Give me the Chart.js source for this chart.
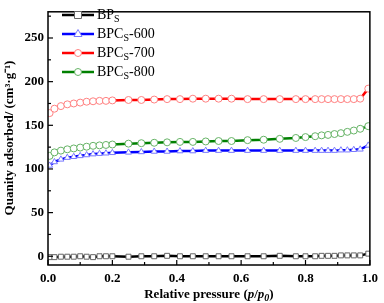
<!DOCTYPE html>
<html><head><meta charset="utf-8">
<script src="https://cdn.jsdelivr.net/npm/chart.js@4/dist/chart.umd.min.js"></script>
<style>html,body{margin:0;padding:0;background:#fff}#wrap{width:384px;height:303px}</style>
</head><body><div id="wrap"><canvas id="c" width="384" height="303"></canvas></div>
<script>
const pressure = [0.005,0.02,0.04,0.06,0.08,0.10,0.12,0.14,0.16,0.18,0.20,0.25,0.29,0.33,0.37,0.41,0.45,0.49,0.53,0.57,0.62,0.67,0.72,0.77,0.80,0.83,0.85,0.87,0.89,0.91,0.93,0.95,0.97,0.995];
const bps     = [-1,-1,-0.5,-0.5,-0.5,0,-0.5,-1,0,0,0,-0.5,0,0,0.5,0,0,0,0,0,0,0,0.5,0,0,0,0.5,0.5,0.5,1,1,1,1,3];
const bpcs600 = [104,108,111,113,114,115,116,117,117.5,118,118.5,119,119.5,120,120,120.5,120.5,121,121,121,121,121,121,121,121,121,121,121,121,121.5,121.5,122,122.5,127];
const bpcs700 = [164,169,172,174,175,176,177,177.5,178,178,178.5,179,179,179.5,180,180,180.5,180.5,180.5,180.5,180,180,180,180,180,180,180,180,180,180,180,180,180.5,192];
const bpcs800 = [115,119,121,122.5,123.5,124.5,125.5,126.5,127,127.5,128,129,129.5,130,130.5,131,131,131.5,132,132,133,133.5,134.5,135.5,136.5,137.5,138.5,139,140,141,142.5,144,146,149];
const seriesNames = [["BP","S",""],["BPC","S","-600"],["BPC","S","-700"],["BPC","S","-800"]];
const xTickValues = [0,0.2,0.4,0.6,0.8,1.0];
const yTickValues = [0,50,100,150,200,250];

const FONT = "'Liberation Serif','Times New Roman',serif";
function pts(ys){return pressure.map((x,i)=>({x:x,y:ys[i]}));}
function ds(label,ys,color,mk,mkColor){
  return {label:label,data:pts(ys),borderColor:color,borderWidth:2.5,pointStyle:mk,pointRadius:3.5,
    pointBackgroundColor:'#fff',pointBorderColor:mkColor,pointBorderWidth:1,tension:0};
}
const datasets=[
  ds('BPs',bps,'#000','rect','#666'),
  ds('BPCs-600',bpcs600,'#0000ff','triangle','#7a7aff'),
  ds('BPCs-700',bpcs700,'#ff0000','circle','#ff8080'),
  ds('BPCs-800',bpcs800,'#008000','circle','#66b366')
];

const deco={id:'deco',afterDraw(chart){
  const ctx=chart.ctx,a=chart.chartArea,xs=chart.scales.x,ys=chart.scales.y;
  ctx.save();
  ctx.strokeStyle='#000';ctx.lineWidth=1.5;
  ctx.strokeRect(a.left,a.top,a.right-a.left,a.bottom-a.top);
  ctx.lineWidth=1.2;
  for(let v=0;v<=1.0001;v+=0.1){const px=xs.getPixelForValue(v);const L=(Math.round(v*10)%2===0)?5:3;
    ctx.beginPath();ctx.moveTo(px,a.bottom);ctx.lineTo(px,a.bottom-L);ctx.stroke();}
  for(let v=0;v<=275;v+=25){const py=ys.getPixelForValue(v);const L=(v%50===0)?5:3;
    ctx.beginPath();ctx.moveTo(a.left,py);ctx.lineTo(a.left+L,py);ctx.stroke();}
  // axis titles
  ctx.fillStyle='#000';
  ctx.font='bold 13px '+FONT;ctx.textBaseline='middle';
  const t1='Relative pressure (',t2='p',t3='/',t4='p',t5='0',t6=')';
  const wB=s=>{ctx.font='bold 13px '+FONT;return ctx.measureText(s).width;};
  const wI=s=>{ctx.font='bold italic 13px '+FONT;return ctx.measureText(s).width;};
  const wS=s=>{ctx.font='bold italic 10px '+FONT;return ctx.measureText(s).width;};
  const total=wB(t1)+wI(t2)+wB(t3)+wI(t4)+wS(t5)+wB(t6);
  let x=(a.left+a.right)/2-total/2; const y=295;
  ctx.textAlign='left';
  ctx.font='bold 13px '+FONT;ctx.fillText(t1,x,y);x+=wB(t1);
  ctx.font='bold italic 13px '+FONT;ctx.fillText(t2,x,y);x+=wI(t2);
  ctx.font='bold 13px '+FONT;ctx.fillText(t3,x,y);x+=wB(t3);
  ctx.font='bold italic 13px '+FONT;ctx.fillText(t4,x,y);x+=wI(t4);
  ctx.font='bold italic 10px '+FONT;ctx.fillText(t5,x,y+3);x+=wS(t5);
  ctx.font='bold 13px '+FONT;ctx.fillText(t6,x,y);
  // y title
  ctx.save();ctx.translate(10,138);ctx.rotate(-Math.PI/2);
  ctx.font='bold 13px '+FONT;ctx.textAlign='center';ctx.fillText('Quanity adsorbed/ (cm³·g⁻¹)',0,0);
  ctx.restore();
  // legend
  const rows=[15,34,53,72];
  chart.data.datasets.forEach((d,i)=>{
    const yy=rows[i];
    ctx.strokeStyle=d.borderColor;ctx.lineWidth=2.5;
    ctx.beginPath();ctx.moveTo(62,yy);ctx.lineTo(94,yy);ctx.stroke();
    ctx.fillStyle='#fff';ctx.strokeStyle=d.pointBorderColor;ctx.lineWidth=1;
    ctx.beginPath();
    if(d.pointStyle==='rect'){ctx.rect(74.5,yy-3.5,7,7);}
    else if(d.pointStyle==='triangle'){ctx.moveTo(78,yy-4.5);ctx.lineTo(82,yy+2.5);ctx.lineTo(74,yy+2.5);ctx.closePath();}
    else {ctx.arc(78,yy,3.5,0,Math.PI*2);}
    ctx.fill();ctx.stroke();
    const n=seriesNames[i];let lx=97;
    ctx.fillStyle='#000';ctx.textAlign='left';ctx.textBaseline='middle';
    ctx.font='14px '+FONT;ctx.fillText(n[0],lx,yy);lx+=ctx.measureText(n[0]).width;
    ctx.font='10px '+FONT;ctx.fillText(n[1],lx,yy+4);lx+=ctx.measureText(n[1]).width;
    ctx.font='14px '+FONT;ctx.fillText(n[2],lx,yy);
  });
  ctx.restore();
}};

new Chart(document.getElementById('c'),{
  type:'line',
  data:{datasets:datasets},
  options:{
    responsive:false,animation:false,
    layout:{padding:{top:3,right:10,left:0,bottom:0}},
    plugins:{legend:{display:false},tooltip:{enabled:false}},
    scales:{
      x:{type:'linear',min:0,max:1,
        afterBuildTicks:s=>{s.ticks=xTickValues.map(v=>({value:v}));},
        afterFit:s=>{s.height=38;},
        grid:{display:false,drawTicks:false},border:{display:false},
        ticks:{color:'#000',font:{family:FONT,size:13,weight:'bold'},padding:6,maxRotation:0,
          callback:v=>Number(v).toFixed(1)}},
      y:{type:'linear',min:-10,max:280,
        afterBuildTicks:s=>{s.ticks=yTickValues.map(v=>({value:v}));},
        afterFit:s=>{s.width=48;},
        grid:{display:false,drawTicks:false},border:{display:false},
        ticks:{color:'#000',font:{family:FONT,size:13,weight:'bold'},padding:4}}
    }
  },
  plugins:[deco]
});
</script></body></html>
